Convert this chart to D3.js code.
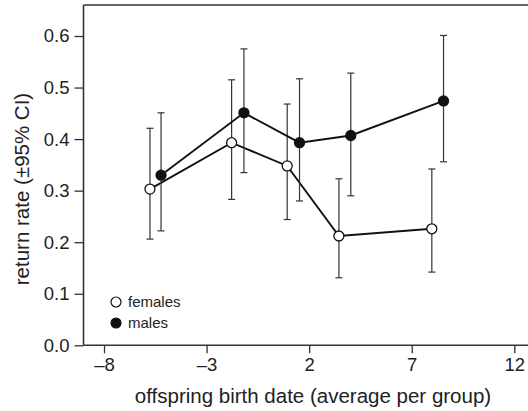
<!DOCTYPE html>
<html>
<head>
<meta charset="utf-8">
<script src="https://cdn.jsdelivr.net/npm/d3@7"></script>
<style>
  body { margin: 0; background: #fff; }
  text { font-family: "Liberation Sans", Arial, sans-serif; fill: #222; }
</style>
</head>
<body>
<div id="chart"></div>
<script>
const xTicks = [-8, -3, 2, 7, 12];
const yTicks = [0, 0.1, 0.2, 0.3, 0.4, 0.5, 0.6];

const femX = [-5.76, -1.78, 0.93, 3.45, 7.98];
const femY = [0.303, 0.393, 0.348, 0.212, 0.226];
const femLo = [0.206, 0.283, 0.244, 0.131, 0.142];
const femHi = [0.421, 0.515, 0.468, 0.323, 0.342];

const maleX = [-5.22, -1.18, 1.53, 4.03, 8.55];
const maleY = [0.330, 0.451, 0.393, 0.407, 0.474];
const maleLo = [0.222, 0.335, 0.280, 0.290, 0.356];
const maleHi = [0.451, 0.575, 0.517, 0.528, 0.601];

const width = 528, height = 411;
const margin = { top: 5, left: 83, bottom: 66 };

const svg = d3.select("#chart").append("svg")
  .attr("width", width).attr("height", height);

// x: -8 at 104px, 12 at 514.3px
const x = d3.scaleLinear().domain([-9, 12]).range([83.5, 514.3]);
const y = d3.scaleLinear().domain([0, 0.6]).range([345.3, 36]);

const axisColor = "#333";

// frame: top line and axes
svg.append("line")
  .attr("x1", x(-9)).attr("x2", width)
  .attr("y1", margin.top).attr("y2", margin.top)
  .attr("stroke", axisColor).attr("stroke-width", 1.6);

const xAxis = svg.append("g")
  .attr("transform", `translate(0,${y(0)})`)
  .call(d3.axisBottom(x).tickValues(xTicks).tickSize(8).tickSizeOuter(0)
    .tickFormat(d => d < 0 ? "\u2013" + Math.abs(d) : d));
xAxis.select(".domain").remove();
xAxis.append("line")
  .attr("x1", x(-9)).attr("x2", width)
  .attr("stroke", axisColor).attr("stroke-width", 1.6);
xAxis.selectAll(".tick line").attr("stroke", axisColor).attr("stroke-width", 1.3);
xAxis.selectAll(".tick text")
  .attr("y", 13)
  .style("font-size", "18.5px")
  .attr("fill", "#222");

const yAxis = svg.append("g")
  .attr("transform", `translate(${x(-9)},0)`)
  .call(d3.axisLeft(y).tickValues(yTicks).tickSize(9).tickSizeOuter(0)
    .tickFormat(d3.format(".1f")));
yAxis.select(".domain").remove();
yAxis.append("line")
  .attr("y1", margin.top).attr("y2", y(0))
  .attr("stroke", axisColor).attr("stroke-width", 1.6);
yAxis.selectAll(".tick line").attr("stroke", axisColor).attr("stroke-width", 1.3);
yAxis.selectAll(".tick text")
  .attr("x", -14)
  .style("font-size", "18.5px")
  .attr("fill", "#222");

// axis titles
svg.append("text")
  .attr("x", 313).attr("y", 403)
  .attr("text-anchor", "middle")
  .style("font-size", "20.5px")
  .text("offspring birth date (average per group)");

svg.append("text")
  .attr("transform", `translate(29,189) rotate(-90)`)
  .attr("text-anchor", "middle")
  .style("font-size", "20.5px")
  .text("return rate (\u00b195% CI)");

// series
const series = [
  { name: "females", xs: femX, ys: femY, lo: femLo, hi: femHi, fill: "#fff" },
  { name: "males", xs: maleX, ys: maleY, lo: maleLo, hi: maleHi, fill: "#111" }
];

const line = d3.line().x(d => x(d[0])).y(d => y(d[1]));

series.forEach(s => {
  const pts = s.xs.map((v, i) => ({ x: v, y: s.ys[i], lo: s.lo[i], hi: s.hi[i] }));
  const g = svg.append("g");
  // error bars
  pts.forEach(p => {
    g.append("line")
      .attr("x1", x(p.x)).attr("x2", x(p.x))
      .attr("y1", y(p.lo)).attr("y2", y(p.hi))
      .attr("stroke", "#333").attr("stroke-width", 1.2);
    [p.lo, p.hi].forEach(v => {
      g.append("line")
        .attr("x1", x(p.x) - 3.5).attr("x2", x(p.x) + 3.5)
        .attr("y1", y(v)).attr("y2", y(v))
        .attr("stroke", "#333").attr("stroke-width", 1.2);
    });
  });
  g.append("path")
    .datum(pts.map(p => [p.x, p.y]))
    .attr("d", line)
    .attr("fill", "none")
    .attr("stroke", "#111")
    .attr("stroke-width", 1.9);
});

// markers on top
series.forEach(s => {
  svg.append("g").selectAll("circle")
    .data(s.xs.map((v, i) => [v, s.ys[i]]))
    .join("circle")
    .attr("cx", d => x(d[0]))
    .attr("cy", d => y(d[1]))
    .attr("r", 5)
    .attr("fill", s.fill)
    .attr("stroke", "#111")
    .attr("stroke-width", 1.3);
});

// legend
const legend = svg.append("g").attr("transform", "translate(116,302)");
series.forEach((s, i) => {
  const g = legend.append("g").attr("transform", `translate(0,${i * 21})`);
  g.append("circle")
    .attr("r", 5)
    .attr("fill", s.fill)
    .attr("stroke", "#111")
    .attr("stroke-width", 1.2);
  g.append("text")
    .attr("x", 12)
    .attr("y", 5)
    .style("font-size", "15px")
    .text(s.name);
});
</script>
</body>
</html>
